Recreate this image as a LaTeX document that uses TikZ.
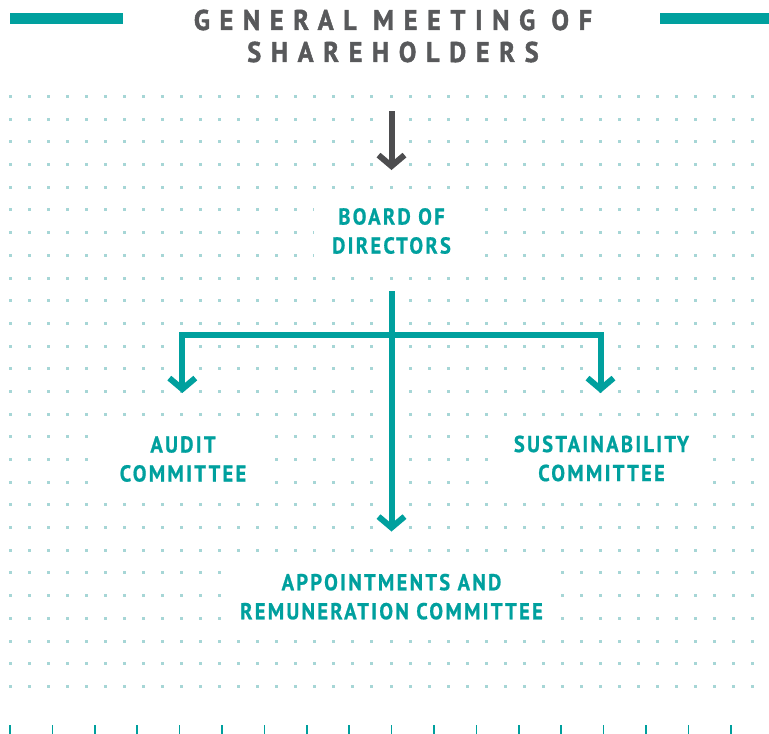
\documentclass[tikz,border=0pt]{standalone}
\usepackage{fontspec}
\setmainfont{PT Sans}
\newfontfamily\titlefont[FakeStretch=0.92,LetterSpace=34,FakeBold=1.6]{PT Sans}
\newfontfamily\unitfont[FakeStretch=0.89,LetterSpace=10,FakeBold=0.8]{PT Sans}
\usepackage{color}
\definecolor{myteal}{RGB}{0,160,158}
\definecolor{mydotteal}{RGB}{166,214,214}
\definecolor{mytitlegray}{RGB}{88,89,91}
\definecolor{myarrowgray}{RGB}{77,77,79}
\usepackage{tikz}
\usetikzlibrary{calc,arrows.meta,positioning}
\tikzstyle{unitbox}=[fill=white,inner xsep=18pt,inner ysep=10pt,align=center,text=myteal,font=\unitfont\bfseries\fontsize{23}{29}\selectfont]
\tikzstyle{titlebox}=[inner sep=0pt,align=center,text=mytitlegray,font=\titlefont\bfseries\fontsize{28.5}{32}\selectfont]
\tikzstyle{tealline}=[draw=myteal,line width=6pt,-{Straight Barb[sharp,length=11pt,width=26pt]}]
\tikzstyle{grayline}=[draw=myarrowgray,line width=6pt,-{Straight Barb[sharp,length=11pt,width=26pt]}]
\tikzstyle{griddot}=[fill=mydotteal]
\tikzstyle{tick}=[draw=myteal,line width=1.5pt]

\begin{document}
\begin{tikzpicture}[x=1pt,y=-1pt]
\useasboundingbox (0,0) rectangle (769,734);
\fill[white] (0,0) rectangle (769,734);
\fill[myteal] (10,13.3) rectangle (122.7,24.3);
\fill[myteal] (660,13.3) rectangle (769,24.3);
\foreach \i in {0,...,39}
  \foreach \j in {0,...,26}
    \fill[griddot] (10+19.05*\i-1.5,96.5+22.69*\j-1.5) rectangle ++(3,3);
\foreach \k in {0,...,17}
  \draw[tick] (10+42.4*\k,725) -- (10+42.4*\k,734);
\node[titlebox] (gms) at (393,36) {GENERAL MEETING OF\\SHAREHOLDERS};
\node[unitbox] (board) at (391.5,231) {BOARD OF\\DIRECTORS};
\node[unitbox] (audit) at (183,459) {AUDIT\\COMMITTEE};
\node[unitbox] (sustain) at (601.5,458.5) {SUSTAINABILITY\\COMMITTEE};
\node[unitbox] (appoint) at (391.5,596.7) {APPOINTMENTS AND\\REMUNERATION COMMITTEE};
\coordinate (gmsout) at (391.5,111);
\coordinate (boardin) at (391.5,170);
\coordinate (boardout) at (391.5,291);
\coordinate (split) at (391.5,334.7);
\coordinate (auditin) at (182.3,393);
\coordinate (sustainin) at (600.5,393);
\coordinate (appointin) at (391.5,531.5);
\draw[grayline] (gmsout) -- (boardin);
\draw[tealline] (boardout) -- (appointin);
\draw[tealline] (split) -| (auditin);
\draw[tealline] (split) -| (sustainin);
\end{tikzpicture}
\end{document}
